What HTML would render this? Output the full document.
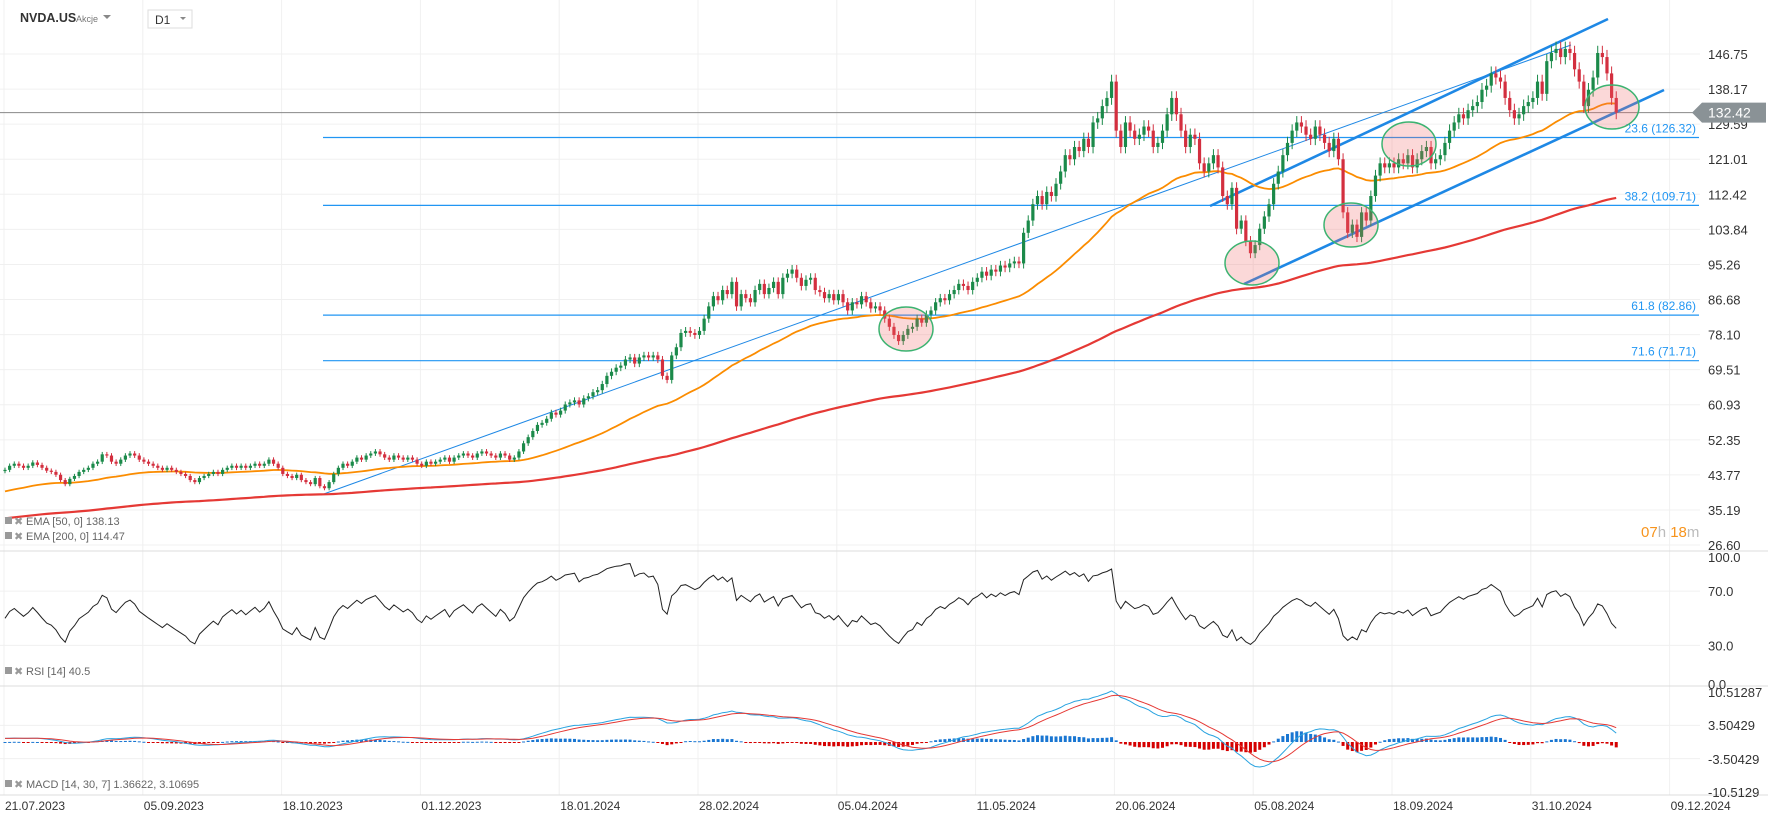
<!DOCTYPE html>
<html><head><meta charset="utf-8"><style>
html,body{margin:0;padding:0;background:#fff;}
svg{display:block;font-family:"Liberation Sans",sans-serif;}
</style></head><body>
<svg id="c" width="1768" height="824" viewBox="0 0 1768 824">
<g id="grid"></g>
<g id="annot"></g>
<g id="main"></g>
<g id="ind"></g>
<g id="axes"></g>
<g>
  <text x="20" y="22" font-size="12.5" font-weight="bold" fill="#333">NVDA.US</text>
  <text x="76" y="22" font-size="9" fill="#777">Akcje</text>
  <path d="M103 15 L111 15 L107 19 Z" fill="#888"/>
  <rect x="148" y="10" width="44" height="18" fill="#fff" stroke="#ddd"/>
  <text x="155" y="24" font-size="12" fill="#333">D1</text>
  <path d="M180 17 L186 17 L183 20 Z" fill="#888"/>
</g>
</svg>
<script>
const closes=[45,46,46.5,46,45.5,46,46.8,46.2,45.5,44.8,
44.5,43.8,42.5,41.5,42.8,43.5,44.5,45,45.5,46.5,
47,48.8,48.5,47,46.5,47.5,48.5,49,48.5,47.5,
47,46.5,46,45.5,45,45.5,45,44.5,44,43.5,
42.5,42,43,43.5,44,44.5,44,45,45.5,46,
45.5,46,45.5,46,46.5,46,46.5,47.5,46.5,45.5,
44,43.5,43,43.8,42.5,42,41.5,43,41,40.5,
42,44,45.5,46.5,46,47,48,47.5,48.5,49,
49.5,48.8,48,47.5,48.5,48,47.5,48,47.5,46.5,
46,47,46.5,47,47.5,48,47,48,48.5,49,
48.5,48,49,49.5,49,48.5,48,49,48.5,47.5,
48,49.5,51.5,53,54.5,56,56.5,57.5,59,58.5,
59.5,61,61.5,62,61,62.5,63,64,64.5,66,
68,69,70,70.5,72,72.5,71,72.5,73,72.5,
73,72,68,67,73,75,78.5,79,78.5,78,
79,82,85,87.5,86.5,89,88,91,85,88,
87,86,89,90.5,88,89.5,91,88,92,93,
94,92,90,91.5,92,89,88.5,87,88,86.5,
88,86,84,86,85.5,87.5,86,84.5,85,84,
82,80,78,76.5,78,79.5,80,82,81,83,
84,86,87,86.5,88,89,90.5,90,89,91,
92,93.5,92.5,94,93.5,95,94.5,95.5,96,95.5,
103,106,110,112,110,113,112,115,118,122,
121,124,123,126,124,130,131,134,136,140,
128,124,130,128,126,127,129,128,124,125,
128,132,136,132,128,124,127,126,120,118,
120,122,119,112,110,114,104,106,101,98,
100,104,107,110,115,118,122,125,128,130,
129,127,126,129,127,125,123,126,121,108,
103,105,102,108,106,112,117,120,119,120,
119,121,120,122,119,121,123,124,120,121,
122,125,128,130,132,131,133,134,135,138,
139,142,141,140,136,133,131,132,134,135,
136,140,137,145,147,148,146,148,147,143,
140,134,138,141,147,146,142,136,132.42];
const priceTicks=[146.75,138.17,129.59,121.01,112.42,103.84,95.26,86.68,78.10,69.51,60.93,52.35,43.77,35.19,26.60];
const rsiTicks=[100,70,30,0];
const macdTicks=[10.51287,3.50429,-3.50429,-10.5129];
const dateLabels=["21.07.2023","05.09.2023","18.10.2023","01.12.2023","18.01.2024","28.02.2024","05.04.2024","11.05.2024","20.06.2024","05.08.2024","18.09.2024","31.10.2024","09.12.2024"];
const fibLevels=[126.32,109.71,82.86,71.71];
const fibNames=["23.6","38.2","61.8","71.6"];
const lastPrice=132.42;

const NS="http://www.w3.org/2000/svg";
function mk(p,t,a){const e=document.createElementNS(NS,t);for(const k in a)e.setAttribute(k,a[k]);p.appendChild(e);return e;}
const X=i=>5+i*4.63;
const Y=p=>54+(146.75-p)*4.087;
const YR=v=>686-v*1.355;
const YM=v=>742-v*4.76;
const gX=k=>4+138.8*k;
const G=document.getElementById('grid'),M=document.getElementById('main'),I=document.getElementById('ind'),A=document.getElementById('axes'),N=document.getElementById('annot');

priceTicks.forEach(t=>{const l=mk(G,'line',{x1:0,x2:1700,y1:Y(t),y2:Y(t),stroke:'#f0f0f0'});

});
[70,30].forEach(t=>{const l=mk(G,'line',{x1:0,x2:1700,y1:YR(t),y2:YR(t),stroke:'#f0f0f0'});

});
[3.50429,-3.50429].forEach(t=>{const l=mk(G,'line',{x1:0,x2:1700,y1:YM(t),y2:YM(t),stroke:'#f0f0f0'});

});
dateLabels.forEach((d,k)=>{const l=mk(G,'line',{x1:gX(k),x2:gX(k),y1:0,y2:795,stroke:'#f0f0f0'});

});
[[551],[686],[795]].forEach(([y])=>{const l=mk(G,'line',{x1:0,x2:1768,y1:y,y2:y,stroke:'#ddd'});

});

fibLevels.forEach((f,k)=>{const l=mk(N,'line',{x1:323,x2:1699,y1:Y(f),y2:Y(f),stroke:'#2196f3','stroke-width':1.2});


const t=mk(N,'text',{x:1696,y:Y(f)-5,'text-anchor':'end','font-size':12,fill:'#2196f3'});t.textContent=fibNames[k]+' ('+f.toFixed(2)+')';

});
const lp=mk(N,'line',{x1:0,x2:1700,y1:Y(lastPrice),y2:Y(lastPrice),stroke:'#888','stroke-width':1});



const ema=(arr,n,seed)=>{const k=2/(n+1);let e=seed;return arr.map(v=>(e=v*k+e*(1-k)));};
const e50=ema(closes,50,39.5),e200=ema(closes,200,33);
function pathOf(vals,fx,fy,start){return vals.map((v,i)=>(i===start?'M':'L')+fx(i).toFixed(1)+' '+fy(v).toFixed(1)).slice(start).join(' ');}
const l200=mk(M,'path',{d:pathOf(e200,X,Y,0),fill:'none',stroke:'#e53935','stroke-width':2.2});


const l50=mk(M,'path',{d:pathOf(e50,X,Y,0),fill:'none',stroke:'#fb8c00','stroke-width':1.8});



closes.forEach((c,i)=>{const o=i?closes[i-1]:c-0.3;const up=c>=o;const w=Math.max(c,o)*0.012;
const hi=Math.max(o,c)+w,lo=Math.min(o,c)-w;const col=up?'#1b8a4a':'#d32f3f';
const g=mk(M,'g',{});


mk(g,'line',{x1:X(i),x2:X(i),y1:Y(hi),y2:Y(lo),stroke:col,'stroke-width':1});
const top=Y(Math.max(o,c)),bh=Math.max(1,Y(Math.min(o,c))-top);
mk(g,'rect',{x:X(i)-1.6,y:top,width:3.2,height:bh,fill:col});});

[[321,495,1571,45,1],[1210,206,1608,19,2.6],[1244,284,1664,90,2.6]].forEach(([a,b,c,d,w])=>{const l=mk(N,'line',{x1:a,y1:b,x2:c,y2:d,stroke:'#1e88e5','stroke-width':w});

});
[[906,329],[1252,263],[1351,225],[1409,144],[1612,107]].forEach(([cx,cy])=>{const e=mk(M,'ellipse',{cx:cx,cy:cy,rx:27,ry:22,fill:'rgba(239,100,100,0.25)',stroke:'#3cb371','stroke-width':1.5});

});

let ag=0.35,al=0.35;const rsi=closes.map((c,i)=>{if(i===0)return 50;const d=c-closes[i-1];ag=(ag*13+Math.max(d,0))/14;al=(al*13+Math.max(-d,0))/14;return 100-100/(1+ag/(al||1e-9));});
const rl=mk(I,'path',{d:pathOf(rsi,X,YR,0),fill:'none',stroke:'#222','stroke-width':1});



const f14=ema(closes,14,45),s30=ema(closes,30,44.2);const macd=f14.map((v,i)=>v-s30[i]);const sig=ema(macd,7,macd[0]);
macd.forEach((m,i)=>{const h=m-sig[i];const y0=YM(0),y1=YM(h);
const r=mk(I,'rect',{x:X(i)-1.5,y:Math.min(y0,y1),width:3,height:Math.max(1,Math.abs(y1-y0)),fill:h>=0?'#1976d2':'#d50000'});

});
const ml=mk(I,'path',{d:pathOf(macd,X,YM,0),fill:'none',stroke:'#29a3e0','stroke-width':1});


const sl=mk(I,'path',{d:pathOf(sig,X,YM,0),fill:'none',stroke:'#e53935','stroke-width':1});



priceTicks.forEach(t=>{const e=mk(A,'text',{x:1708,y:Y(t)+5,'font-size':13,fill:'#333'});e.textContent=t.toFixed(2);

});
rsiTicks.forEach(t=>{const e=mk(A,'text',{x:1708,y:Math.min(Math.max(YR(t)+5,562),689),'font-size':13,fill:'#333'});e.textContent=t.toFixed(1);

});
macdTicks.forEach((t,k)=>{const e=mk(A,'text',{x:1708,y:[697,730,764,797][k],'font-size':13,fill:'#333'});e.textContent=String(t);

});
dateLabels.forEach((d,k)=>{const e=mk(A,'text',{x:gX(k)+1,y:810,'font-size':12,fill:'#333'});e.textContent=d;

});
const pt=mk(A,'path',{d:`M1692 ${Y(lastPrice)} L1702 ${Y(lastPrice)-10} L1766 ${Y(lastPrice)-10} L1766 ${Y(lastPrice)+10} L1702 ${Y(lastPrice)+10} Z`,fill:'#8a9296'});


const ptt=mk(A,'text',{x:1708,y:Y(lastPrice)+5,'font-size':14,fill:'#fff'});ptt.textContent=lastPrice.toFixed(2);


const tm=mk(A,'text',{x:1641,y:537,'font-size':15});


tm.innerHTML='<tspan fill="#f7941d">07</tspan><tspan fill="#bbb">h </tspan><tspan fill="#f7941d">18</tspan><tspan fill="#bbb">m</tspan>';
[["EMA [50, 0] 138.13",525],["EMA [200, 0] 114.47",540],["RSI [14]  40.5",675],["MACD [14, 30, 7] 1.36622,  3.10695",788]].forEach(([t,y])=>{
const g=mk(A,'g',{});


mk(g,'rect',{x:5,y:y-8,width:7,height:7,fill:'#999'});
const x=mk(g,'text',{x:14,y:y,'font-size':11,fill:'#999'});x.textContent='✖';
const e=mk(g,'text',{x:26,y:y,'font-size':11,fill:'#666'});e.textContent=t;});
</script>
</body></html>
